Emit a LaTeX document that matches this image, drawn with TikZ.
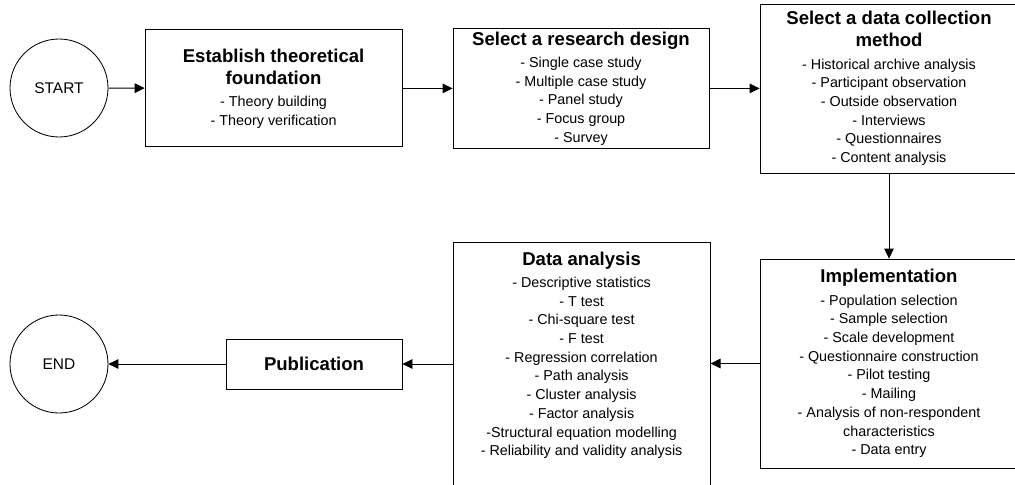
\documentclass[tikz,border=0pt]{standalone}
\usepackage{fontspec}
\setmainfont{Liberation Sans}
\usepackage{tikz}
\usetikzlibrary{shapes,arrows.meta,positioning}

\newcommand{\steptitle}[1]{{\fontsize{13.2}{15.6}\selectfont\bfseries #1}}

\begin{document}
\begin{tikzpicture}[
  stage/.style={
    rectangle,
    draw=black,
    semithick,
    align=center,
    inner sep=2pt,
    font=\fontsize{10.2}{13.3}\selectfont
  },
  terminal/.style={
    circle,
    draw=black,
    semithick,
    minimum size=2.45cm,
    font=\fontsize{11}{13}\selectfont
  },
  flow/.style={
    -{Triangle[length=0.25cm, width=0.24cm]},
    semithick
  }
]
\useasboundingbox (0,0) rectangle (25.375,-12.125);

% --- TOP ROW (left to right) ---
\node[terminal] (start) at (1.475,-2.2) {START};

\node[stage, minimum width=6.425cm, minimum height=2.925cm] (theory) at (6.84,-2.21) {
    \steptitle{Establish theoretical}\\[2.3pt]
    \steptitle{foundation}\\[2.6pt]
    - Theory building\\
    - Theory verification
};

\node[stage, minimum width=6.4cm, minimum height=2.925cm] (design) at (14.525,-2.21) {
    \steptitle{Select a research design}\\[2.6pt]
    - Single case study\\
    - Multiple case study\\
    - Panel study\\
    - Focus group\\
    - Survey
};

\node[stage, minimum width=6.45cm, minimum height=4.225cm] (collection) at (22.225,-2.2125) {
    \steptitle{Select a data collection}\\[2.3pt]
    \steptitle{method}\\[2.6pt]
    - Historical archive analysis\\
    - Participant observation\\
    - Outside observation\\
    - Interviews\\
    - Questionnaires\\
    - Content analysis
};

% --- BOTTOM ROW (right to left) ---
\node[stage, minimum width=6.45cm, minimum height=5.225cm] (implementation) at (22.225,-9.0875) {
    \steptitle{Implementation}\\[2.6pt]
    - Population selection\\
    - Sample selection\\
    - Scale development\\
    - Questionnaire construction\\
    - Pilot testing\\
    - Mailing\\
    - Analysis of non-respondent\\
    characteristics\\
    - Data entry
};

\node[stage, minimum width=6.425cm, minimum height=6.45cm, anchor=north] (analysis) at (14.54,-6.05) {};
\node[stage, draw=none, anchor=north, below=4.6pt of analysis.north] (analysistext) {
    \steptitle{Data analysis}\\[2.6pt]
    - Descriptive statistics\\
    - T test\\
    - Chi-square test\\
    - F test\\
    - Regression correlation\\
    - Path analysis\\
    - Cluster analysis\\
    - Factor analysis\\
    -Structural equation modelling\\
    - Reliability and validity analysis
};

\node[stage, minimum width=4.4cm, minimum height=1.25cm] (publication) at (7.85,-9.1) {\steptitle{Publication}};

\node[terminal] (end) at (1.475,-9.1) {END};

% --- CONNECTORS ---
\draw[flow] (start) -- (theory);
\draw[flow] (theory) -- (design);
\draw[flow] (design.east) -- (design.east -| collection.west);
\draw[flow] (collection) -- (implementation);
\draw[flow] (implementation.west) -- (implementation.west -| analysis.east);
\draw[flow] (publication.east -| analysis.west) -- (publication.east);
\draw[flow] (publication) -- (end);

\end{tikzpicture}
\end{document}
